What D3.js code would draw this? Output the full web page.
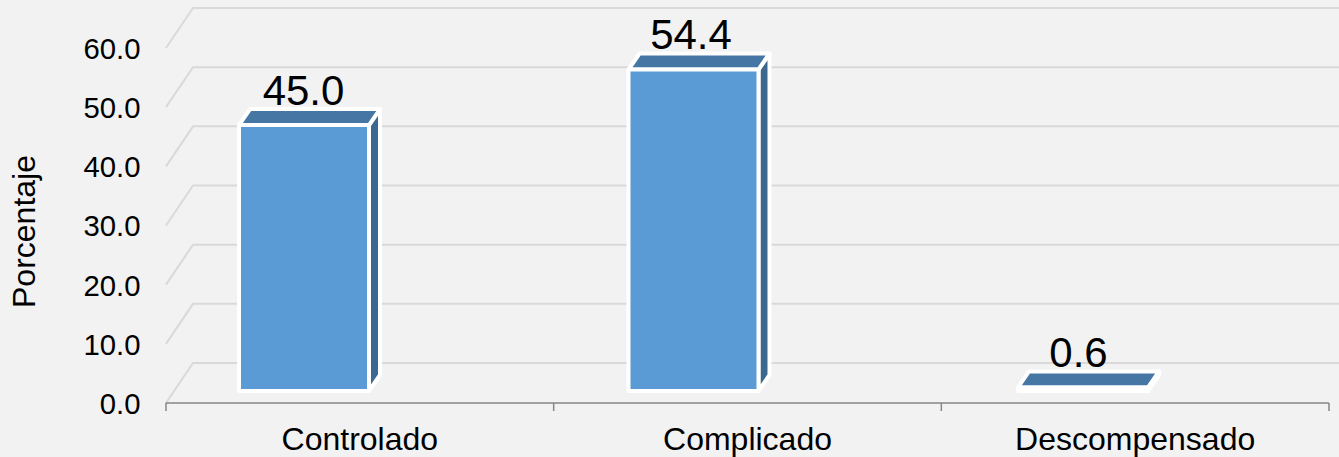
<!DOCTYPE html>
<html><head><meta charset="utf-8">
<script src="https://cdn.jsdelivr.net/npm/d3@7"></script>
<style>html,body{margin:0;padding:0;background:#f2f2f2;overflow:hidden}svg{display:block}text{font-family:"Liberation Sans",Arial,sans-serif;fill:#000}</style>
</head><body><svg id="c" width="1339" height="457"></svg>
<script>
const categories = ["Controlado","Complicado","Descompensado"];
const values = [45.0,54.4,0.6];
const valueLabels = ["45.0","54.4","0.6"];
const ticks = [0,10,20,30,40,50,60];
const axisTitle = "Porcentaje";

const W=1339,H=457;
const svg=d3.select("#c");
svg.append("rect").attr("width",W).attr("height",H).attr("fill","#f2f2f2");
const y=d3.scaleLinear().domain([0,60]).range([403,48]);
const xBand=d3.scaleBand().domain(categories).range([166,1329]);
const barScale=d3.scalePoint().domain(categories).range([304,1083]);
const labelScale=d3.scalePoint().domain(categories).range([303.5,1078.5]);
const barW=130, depthX=27, depthY=40, barDX=11, barDY=16, baseLift=12;
const barY=d3.scaleLinear().domain([0,60]).range([403-baseLift,403-baseLift-354.6]);

const g=svg.append("g");
ticks.forEach(t=>{
  g.append("path").attr("fill","none").attr("stroke","#d9d9d9").attr("stroke-width",2)
   .attr("d",`M${xBand.range()[0]},${y(t)}L${xBand.range()[0]+depthX},${y(t)-depthY}L${W},${y(t)-depthY}`);
});
g.append("line").attr("x1",166).attr("x2",1329).attr("y1",403).attr("y2",403).attr("stroke","#868686").attr("stroke-width",1.5);
const tickXs=[...categories.map(c=>xBand(c)),1329];
tickXs.forEach(x=>g.append("line").attr("x1",x).attr("x2",x).attr("y1",403).attr("y2",411).attr("stroke","#868686").attr("stroke-width",1.5));
ticks.forEach(t=>g.append("text").attr("x",140.5).attr("y",y(t)).attr("dy","0.37em").attr("text-anchor","end").attr("font-size",29.3).text(t.toFixed(1)));
categories.forEach((c,i)=>{
  const cx=barScale(c), x0=cx-barW/2, x1=cx+barW/2, b=barY(0), t=barY(values[i]);
  const bar=svg.append("g").attr("stroke","#fff").attr("stroke-width",4).attr("stroke-linejoin","round");
  bar.append("path").attr("fill","#3c688f").attr("d",`M${x1},${t}L${x1+barDX},${t-barDY}L${x1+barDX},${b-barDY}L${x1},${b}Z`);
  bar.append("path").attr("fill","#4677a4").attr("d",`M${x0},${t}L${x0+barDX},${t-barDY}L${x1+barDX},${t-barDY}L${x1},${t}Z`);
  bar.append("rect").attr("fill","#5b9bd5").attr("x",x0).attr("y",t).attr("width",barW).attr("height",b-t);
  svg.append("text").attr("x",labelScale(c)).attr("y",t-20).attr("text-anchor","middle").attr("font-size",42).text(valueLabels[i]);
  svg.append("text").attr("x",xBand(c)+xBand.bandwidth()/2).attr("y",450).attr("text-anchor","middle").attr("font-size",32).text(c);
});
svg.append("text").attr("transform","translate(34.5,231.5) rotate(-90)").attr("text-anchor","middle").attr("font-size",32).text(axisTitle);
</script></body></html>
